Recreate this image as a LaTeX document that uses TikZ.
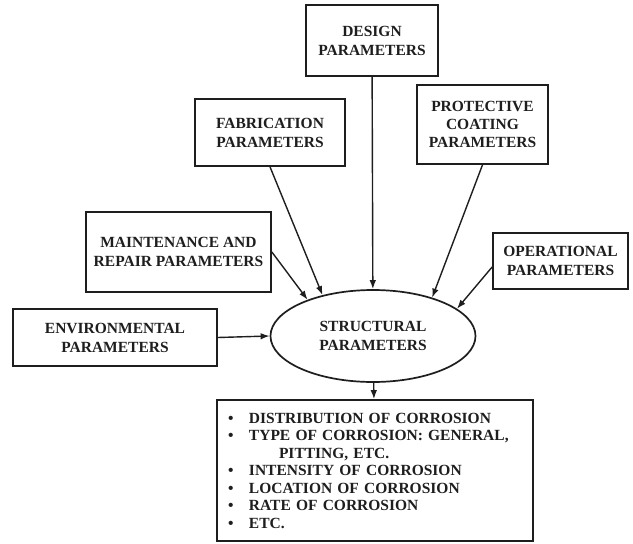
\documentclass[tikz,border=0pt]{standalone}
\usepackage{fontspec}
\setmainfont{Liberation Serif}
\usetikzlibrary{shapes.geometric,arrows.meta}
\definecolor{ink}{HTML}{1E1E1E}
\begin{document}
\begin{tikzpicture}[x=1pt,y=-1pt,
  box/.style={draw=ink, line width=1.7pt, text=ink, font=\fontsize{15.5}{19}\selectfont\bfseries, align=center, inner sep=0pt},
  arr/.style={draw=ink, line width=1.4pt, -{Latex[length=9pt,width=6.5pt]}}]
\fill[white] (0,0) rectangle (633,544);
\useasboundingbox (0,0) rectangle (633,544);
\node[box, minimum width=132pt, minimum height=71pt] (design) at (372,40.5) {DESIGN\\PARAMETERS};
\node[box, minimum width=150pt, minimum height=67pt] (fab) at (270,132.5) {FABRICATION\\PARAMETERS};
\node[box, minimum width=131pt, minimum height=79pt, font=\fontsize{15.5}{18}\selectfont\bfseries] (prot) at (482.5,124.5) {PROTECTIVE\\COATING\\PARAMETERS};
\node[box, minimum width=185pt, minimum height=80pt] (maint) at (178.5,252) {MAINTENANCE AND\\REPAIR PARAMETERS};
\node[box, minimum width=135pt, minimum height=56pt] (oper) at (560.5,261) {OPERATIONAL\\PARAMETERS};
\node[box, minimum width=204pt, minimum height=57pt] (env) at (115,337.5) {ENVIRONMENTAL\\PARAMETERS};
\node[box, ellipse, minimum width=205pt, minimum height=92pt] (s) at (373,336) {STRUCTURAL\\PARAMETERS};
\node[box, minimum width=316pt, minimum height=141pt, text width=294pt, align=left, font=\fontsize{15.5}{17.5}\selectfont\bfseries] (eff) at (375,470.5) {%
\makebox[21pt][l]{•}DISTRIBUTION OF CORROSION\\
\makebox[21pt][l]{•}TYPE OF CORROSION: GENERAL,\\
\hspace*{51pt}PITTING, ETC.\\
\makebox[21pt][l]{•}INTENSITY OF CORROSION\\
\makebox[21pt][l]{•}LOCATION OF CORROSION\\
\makebox[21pt][l]{•}RATE OF CORROSION\\
\makebox[21pt][l]{•}ETC.};
\draw[arr] (design) -- (s);
\draw[arr] (fab.south) -- (s.141);
\draw[arr] (prot.south) -- (s.33);
\draw[arr] (maint.east) -- (s.151);
\draw[arr] (oper.185) -- (s.18);
\draw[arr] (env.east) -- (s.west);
\draw[arr] (s) -- (eff);
\end{tikzpicture}
\end{document}
